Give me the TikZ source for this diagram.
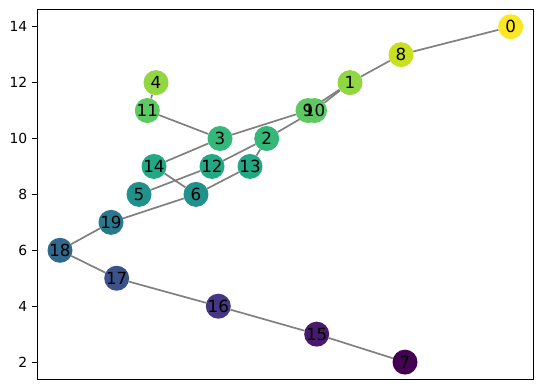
\documentclass[tikz,border=0pt]{standalone}
\usepackage{fontspec}
\setmainfont{DejaVu Sans}
\usepackage{xcolor}
\definecolor{VIRa}{HTML}{440154}
\definecolor{VIRb}{HTML}{481A6C}
\definecolor{VIRc}{HTML}{453781}
\definecolor{VIRd}{HTML}{3B528B}
\definecolor{VIRe}{HTML}{31688E}
\definecolor{VIRf}{HTML}{2A788E}
\definecolor{VIRg}{HTML}{21918C}
\definecolor{VIRh}{HTML}{22A884}
\definecolor{VIRi}{HTML}{35B779}
\definecolor{VIRj}{HTML}{5EC962}
\definecolor{VIRk}{HTML}{90D743}
\definecolor{VIRl}{HTML}{C8E020}
\definecolor{VIRm}{HTML}{FDE725}
\definecolor{EDGECOLOR}{HTML}{808080}
\usetikzlibrary{backgrounds}
\tikzset{
  vertex-style/.style = {
    circle, fill=#1,
    minimum size=25pt,
    inner sep=0pt
  },
  number-style/.style = {
    font=\fontsize{16.7}{20}\selectfont,
    inner sep=0pt
  },
  tick-style/.style = {
    font=\fontsize{13.9}{16}\selectfont,
    inner sep=0pt, anchor=east
  },
  frame-style/.style = {
    draw, line width=1.11pt
  },
  every edge/.style = {draw, line width=1.7pt, color=EDGECOLOR}
}

\begin{document}
\begin{tikzpicture}
  \useasboundingbox (0,0) rectangle (543pt,389pt);
  %%% axes frame
  \draw[frame-style] (37.3pt,9.7pt) rectangle (533.3pt,379.7pt);
  \begin{scope}[x=1pt,y=27.95pt,yshift=-29pt]
    %%% y ticks
    \foreach \t in {2,4,...,14} {
      \draw[line width=1.11pt] (37.3,\t) -- (32.4,\t);
      \node[tick-style] (tick\t) at (27.5,\t) {\t};
    }

    %%% vertices
    \node[vertex-style=VIRm] (v0) at (510.7,14) {};
    \node[vertex-style=VIRk] (v1) at (350,12) {};
    \node[vertex-style=VIRi] (v2) at (266.7,10) {};
    \node[vertex-style=VIRi] (v3) at (220,10) {};
    \node[vertex-style=VIRk] (v4) at (156,12) {};
    \node[vertex-style=VIRg] (v5) at (139,8) {};
    \node[vertex-style=VIRg] (v6) at (196,8) {};
    \node[vertex-style=VIRa] (v7) at (405,2) {};
    \node[vertex-style=VIRl] (v8) at (401,13) {};
    \node[vertex-style=VIRj] (v9) at (308,11) {};
    \node[vertex-style=VIRj] (v10) at (314.5,11) {};
    \node[vertex-style=VIRj] (v11) at (147.3,11) {};
    \node[vertex-style=VIRh] (v12) at (212,9) {};
    \node[vertex-style=VIRh] (v13) at (250,9) {};
    \node[vertex-style=VIRh] (v14) at (154,9) {};
    \node[vertex-style=VIRb] (v15) at (316.7,3) {};
    \node[vertex-style=VIRc] (v16) at (218.3,4) {};
    \node[vertex-style=VIRd] (v17) at (116.7,5) {};
    \node[vertex-style=VIRe] (v18) at (60,6) {};
    \node[vertex-style=VIRf] (v19) at (111,7) {};

    %%% numbers on top of all vertices
    \foreach \n in {0,...,19}
      \node[number-style] (t\n) at (v\n) {\n};

    %%% edges
    \begin{pgfonlayer}{background}
      \path (v0) edge (v8)
            (v8) edge (v1)
            (v1) edge (v9)
            (v1) edge (v10)
            (v9) edge (v3)
            (v10) edge (v2)
            (v4) edge (v11)
            (v11) edge (v3)
            (v3) edge (v14)
            (v14) edge (v6)
            (v2) edge (v12)
            (v12) edge (v5)
            (v2) edge (v13)
            (v13) edge (v6)
            (v6) edge (v19)
            (v19) edge (v18)
            (v18) edge (v17)
            (v17) edge (v16)
            (v16) edge (v15)
            (v15) edge (v7);
    \end{pgfonlayer}
  \end{scope}
\end{tikzpicture}
\end{document}
